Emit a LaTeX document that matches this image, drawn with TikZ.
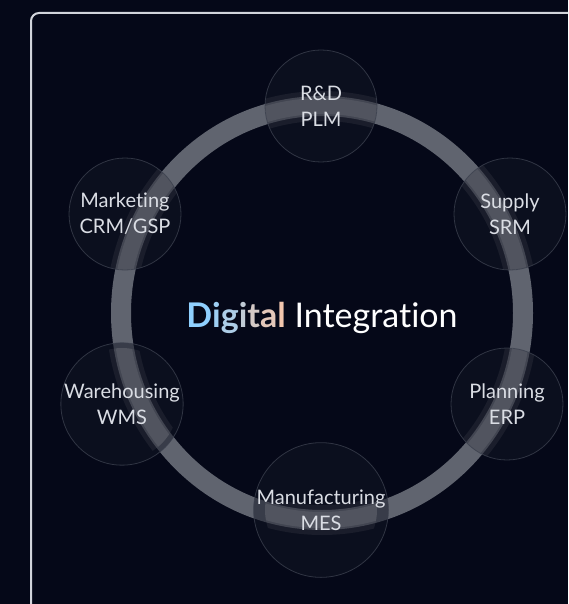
\documentclass[tikz,border=0pt]{standalone}
\usepackage{fontspec}
\setmainfont{Lato}[Ligatures=NoCommon]
\usepackage{tikz}

\definecolor{bgnavy}{HTML}{050818}
\definecolor{framegray}{HTML}{D2D4DB}
\definecolor{ringgray}{HTML}{60646F}
\definecolor{unitfill}{HTML}{121624}
\definecolor{unitline}{HTML}{3A3F4D}
\definecolor{labelgray}{HTML}{DADDE4}
\definecolor{digiblue}{HTML}{8FD0FF}
\definecolor{digipeach}{HTML}{F2C6AE}

\begin{document}
\begin{tikzpicture}[x=1pt, y=-1pt,
    unit/.style={circle, minimum size=112pt, inner sep=0pt, fill=unitfill, fill opacity=.5,
        text opacity=1, draw=unitline, draw opacity=.8, line width=.8pt, text=labelgray,
        align=center, font=\fontsize{20}{26}\selectfont},
    glow/.style={draw=white, line width=#1}]
    \path[use as bounding box, fill=bgnavy] (0,0) rectangle (568,604);
    \clip (0,0) rectangle (568,604);

    \draw[framegray, line width=2pt, rounded corners=8pt] (31,13) rectangle (640,680);

    \coordinate (rdpos) at (321,106);
    \coordinate (supplypos) at (510,214);
    \coordinate (planningpos) at (507,404);
    \coordinate (manufacturingpos) at (321,510);
    \coordinate (warehousingpos) at (122,404);
    \coordinate (marketingpos) at (125,214);

    \draw[ringgray, line width=20pt] (322,313) ellipse [x radius=201pt, y radius=207pt];
    \begin{scope}
        \clip (rdpos) circle (56pt) (supplypos) circle (56pt) (planningpos) circle (56pt)
            (manufacturingpos) circle (56pt) (warehousingpos) circle (56pt) (marketingpos) circle (56pt);
        \draw[glow=30pt, opacity=.12] (322,313) ellipse [x radius=201pt, y radius=207pt];
        \draw[glow=16pt, opacity=.22] (322,313) ellipse [x radius=201pt, y radius=207pt];
    \end{scope}

    \node[unit] (rd) at (rdpos) {R\&D\\PLM};
    \node[unit] (supply) at (supplypos) {Supply\\SRM};
    \node[unit] (planning) at (planningpos) {Planning\\ERP};
    \node[unit] (manufacturing) at (manufacturingpos) {Manufacturing\\MES};
    \node[unit] (warehousing) at (warehousingpos) {Warehousing\\WMS};
    \node[unit] (marketing) at (marketingpos) {Marketing\\CRM/GSP};

    \node[font=\fontsize{34}{40}\selectfont, text=white] (title) at (322,318)
        {\textbf{\textcolor{digiblue}{D}\textcolor{digiblue!85!digipeach}{i}\textcolor{digiblue!70!digipeach}{g}\textcolor{digiblue!50!digipeach}{i}\textcolor{digiblue!30!digipeach}{t}\textcolor{digiblue!15!digipeach}{a}\textcolor{digipeach}{l}} Integration};
\end{tikzpicture}
\end{document}
